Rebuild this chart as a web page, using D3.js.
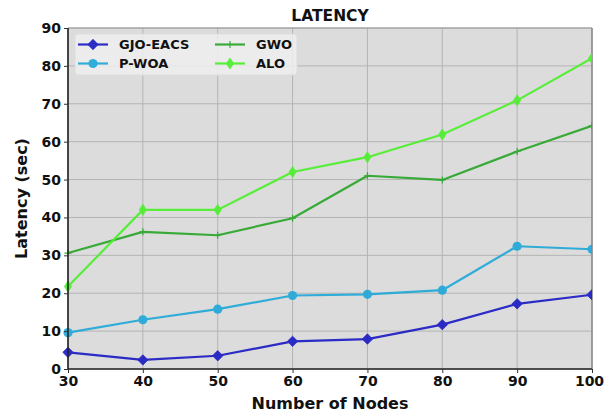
<!DOCTYPE html>
<html>
<head>
<meta charset="utf-8">
<script src="https://cdn.jsdelivr.net/npm/d3@7"></script>
<style>
  html, body { margin: 0; padding: 0; background: #fff; overflow: hidden; }
  svg text { font-family: "DejaVu Sans", sans-serif; font-weight: bold; fill: #111; }
</style>
</head>
<body>
<svg id="chart" width="605" height="412"></svg>
<script>
// Latency (sec) versus number of nodes for four schemes
const nodes = [30, 40, 50, 60, 70, 80, 90, 100];
const gjoEacs = [4.4, 2.4, 3.5, 7.3, 7.9, 11.7, 17.2, 19.6];
const pWoa = [9.6, 13.0, 15.8, 19.4, 19.7, 20.8, 32.4, 31.6];
const gwo = [30.6, 36.2, 35.3, 39.8, 51.0, 49.9, 57.4, 64.2];
const alo = [21.8, 42.0, 42.0, 52.0, 55.9, 61.9, 70.9, 82.0];
const yTicks = [0, 10, 20, 30, 40, 50, 60, 70, 80, 90];
const seriesNames = ["GJO-EACS", "P-WOA", "GWO", "ALO"];

const series = [
  { name: seriesNames[0], values: gjoEacs, color: "#1c1cc4", marker: "D" },
  { name: seriesNames[1], values: pWoa, color: "#22a8d8", marker: "o" },
  { name: seriesNames[2], values: gwo, color: "#2aa62a", marker: "+" },
  { name: seriesNames[3], values: alo, color: "#4cf02c", marker: "d" }
];

const svg = d3.select("#chart");
const m = { left: 68, right: 592, top: 28, bottom: 369 };

const x = d3.scaleLinear().domain([30, 100]).range([m.left, m.right]);
const y = d3.scaleLinear().domain([0, 90]).range([m.bottom, m.top]);

// plot background
svg.append("rect")
  .attr("x", m.left).attr("y", m.top)
  .attr("width", m.right - m.left).attr("height", m.bottom - m.top)
  .attr("fill", "#dcdcdc");

// grid
const grid = svg.append("g");
grid.selectAll("line.gx").data(nodes).join("line")
  .attr("x1", d => x(d)).attr("x2", d => x(d))
  .attr("y1", m.top).attr("y2", m.bottom)
  .attr("stroke", "#b4b4b4").attr("stroke-width", 1);
grid.selectAll("line.gy").data(yTicks).join("line")
  .attr("x1", m.left).attr("x2", m.right)
  .attr("y1", d => y(d)).attr("y2", d => y(d))
  .attr("stroke", "#b4b4b4").attr("stroke-width", 1);

// frame (top and right in gray)
svg.append("line").attr("x1", m.left).attr("x2", m.right).attr("y1", m.top).attr("y2", m.top)
  .attr("stroke", "#9a9a9a").attr("stroke-width", 1.2);
svg.append("line").attr("x1", m.right).attr("x2", m.right).attr("y1", m.top).attr("y2", m.bottom)
  .attr("stroke", "#8a8a8a").attr("stroke-width", 1.5);

// clip for the data marks
svg.append("defs").append("clipPath").attr("id", "plotclip")
  .append("rect").attr("x", m.left - 8).attr("y", m.top)
  .attr("width", m.right - m.left + 8).attr("height", m.bottom - m.top);

const line = d3.line().x((d, i) => x(nodes[i])).y(d => y(d));

function drawMarker(g, kind, cx, cy, color) {
  if (kind === "D") {
    const s = 5.2;
    g.append("path").attr("d", `M${cx},${cy - s}L${cx + s},${cy}L${cx},${cy + s}L${cx - s},${cy}Z`)
      .attr("fill", color).attr("stroke", color).attr("stroke-width", 0.8);
  } else if (kind === "d") {
    const h = 5.5, w = 3.6;
    g.append("path").attr("d", `M${cx},${cy - h}L${cx + w},${cy}L${cx},${cy + h}L${cx - w},${cy}Z`)
      .attr("fill", color).attr("stroke", color).attr("stroke-width", 0.8);
  } else if (kind === "o") {
    g.append("circle").attr("cx", cx).attr("cy", cy).attr("r", 4.6)
      .attr("fill", color);
  } else if (kind === "+") {
    const s = 3.5;
    g.append("path").attr("d", `M${cx - s},${cy}H${cx + s}M${cx},${cy - s}V${cy + s}`)
      .attr("stroke", color).attr("stroke-width", 1.2);
  }
}

const plot = svg.append("g").attr("clip-path", "url(#plotclip)");
series.forEach(s => {
  const g = plot.append("g").attr("opacity", 0.92);
  g.append("path").datum(s.values).attr("d", line)
    .attr("fill", "none").attr("stroke", s.color).attr("stroke-width", 2.2)
    .attr("stroke-linejoin", "round");
  s.values.forEach((v, i) => drawMarker(g, s.marker, x(nodes[i]), y(v), s.color));
});

// axes
const xAxis = d3.axisBottom(x).tickValues(nodes).tickSize(4).tickPadding(3).tickFormat(d3.format("d"));
const yAxis = d3.axisLeft(y).tickValues(yTicks).tickSize(4).tickPadding(3);

const gx = svg.append("g").attr("transform", `translate(0,${m.bottom})`).call(xAxis);
const gy = svg.append("g").attr("transform", `translate(${m.left},0)`).call(yAxis);
[gx, gy].forEach(g => {
  g.select(".domain").attr("stroke", "#222").attr("stroke-width", 1.6);
  g.selectAll(".tick line").attr("stroke", "#333").attr("stroke-width", 1);
  g.selectAll(".tick text").attr("font-size", 14).attr("font-family", "DejaVu Sans")
    .attr("font-weight", "bold").attr("fill", "#111");
});
gx.select(".domain").attr("d", `M${m.left},0H${m.right}`);
gy.select(".domain").attr("d", `M0,${m.bottom}V${m.top}`);
// keep the last x tick label inside the page
gx.selectAll(".tick text").filter(d => d === 100).attr("dx", "-3");

// titles
svg.append("text").attr("x", (m.left + m.right) / 2).attr("y", 21)
  .attr("text-anchor", "middle").attr("font-size", 15.5).text("LATENCY");
svg.append("text").attr("x", (m.left + m.right) / 2).attr("y", 409)
  .attr("text-anchor", "middle").attr("font-size", 16).text("Number of Nodes");
svg.append("text").attr("transform", `translate(27,${(m.top + m.bottom) / 2}) rotate(-90)`)
  .attr("text-anchor", "middle").attr("font-size", 16).text("Latency (sec)");

// legend
const lg = svg.append("g");
lg.append("rect").attr("x", 75).attr("y", 34).attr("width", 222).attr("height", 41)
  .attr("rx", 3).attr("fill", "#eeeeee").attr("fill-opacity", 0.85)
  .attr("stroke", "#dddddd");
const cols = [{ lx: 78, tx: 119 }, { lx: 215, tx: 256 }];
const rows = [44.5, 63.5];
series.forEach((s, i) => {
  const c = cols[Math.floor(i / 2)], ry = rows[i % 2];
  const g = lg.append("g").attr("opacity", 0.92);
  g.append("line").attr("x1", c.lx).attr("x2", c.lx + 30).attr("y1", ry).attr("y2", ry)
    .attr("stroke", s.color).attr("stroke-width", 2.2);
  drawMarker(g, s.marker, c.lx + 15, ry, s.color);
  lg.append("text").attr("x", c.tx).attr("y", ry + 4.5).attr("font-size", 13).text(s.name);
});
</script>
</body>
</html>
